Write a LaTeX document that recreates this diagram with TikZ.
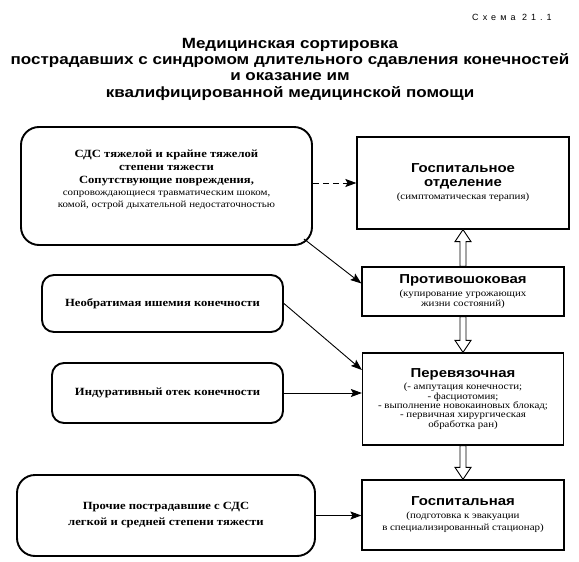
\documentclass[tikz,border=0pt]{standalone}
\usepackage{fontspec}
\setmainfont{Liberation Serif}[FakeStretch=1.15]
\newfontfamily\headfont{Liberation Sans}[FakeStretch=1.15]
\newfontfamily\schemefont{Liberation Sans}[LetterSpace=45]
\usetikzlibrary{positioning,calc,arrows.meta}

\newcommand{\titletext}{\headfont\bfseries\fontsize{14.8}{16.3}\selectfont}
\newcommand{\rhead}{\headfont\bfseries\fontsize{13}{13}\selectfont}
\newcommand{\leftbold}{\bfseries\fontsize{11}{13}\selectfont}
\newcommand{\smalltext}{\mdseries\fontsize{9.5}{10.5}\selectfont}

\newcommand{\hollowarrow}[2]{%
  \draw[hollow] (#2)
    -- ($(#2)!12pt!(#1)!8pt!90:(#1)$)
    -- ($(#2)!12pt!(#1)!3pt!90:(#1)$)
    -- ($(#1)!3pt!-90:(#2)$)
    -- ($(#1)!3pt!90:(#2)$)
    -- ($(#2)!12pt!(#1)!3pt!-90:(#1)$)
    -- ($(#2)!12pt!(#1)!8pt!-90:(#1)$)
    -- cycle;}

\begin{document}
\begin{tikzpicture}[x=1pt,y=-1pt]
        \tikzstyle{lbox}=[draw,line width=1.9pt,rounded corners=18pt,align=center,font=\leftbold]
        \tikzstyle{rbox}=[draw,line width=1.2pt,align=center,font=\smalltext]
        \tikzstyle{link}=[line width=0.9pt,-{Stealth[length=11pt,width=8pt,inset=2pt]}]
        \tikzstyle{hollow}=[line width=0.9pt,fill=white]
          \useasboundingbox (0,0) rectangle (579,562);
          \node (scheme) at (512,17) [font=\schemefont\fontsize{9}{10}\selectfont] {Схема 21.1};
          \node (title) at (290,69) [align=center,font=\titletext] {Медицинская сортировка\\
            пострадавших с синдромом длительного сдавления конечностей\\
            и оказание им\\
            квалифицированной медицинской помощи};
          \node (heavy) at (166.5,186) [lbox,minimum width=291,minimum height=118] {};
          \node (heavytext) at (166.5,180) [align=center,font=\leftbold] {СДС тяжелой и крайне тяжелой\\
            степени тяжести\\
            Сопутствующие повреждения,\\[-1pt]
            \smalltext сопровождающиеся травматическим шоком,\\[-1pt]
            \smalltext комой, острой дыхательной недостаточностью};
          \node (ischemia) at (162.5,303.5) [lbox,rounded corners=12pt,minimum width=241,minimum height=57] {Необратимая ишемия конечности};
          \node (indur) at (167.5,393) [lbox,rounded corners=12pt,minimum width=231,minimum height=60] {Индуративный отек конечности};
          \node (other) at (166,515.5) [lbox,minimum width=298,minimum height=81] {Прочие пострадавшие с СДС\\[3pt]
            легкой и средней степени тяжести};
          \node (hosp) at (463,183) [rbox,minimum width=212,minimum height=92] {\rhead Госпитальное\\[3pt]
            \rhead отделение\\[3pt]
            (симптоматическая терапия)};
          \node (anti) at (463,291.5) [rbox,minimum width=202,minimum height=49] {\rhead Противошоковая\\[2.5pt]
            (купирование угрожающих\\
            жизни состояний)};
          \node (dress) at (463,399) [rbox,minimum width=201,minimum height=92] {\rhead Перевязочная\\[1.5pt]
            (- ампутация конечности;\\[-1.2pt]
            - фасциотомия;\\[-1.2pt]
            - выполнение новокаиновых блокад;\\[-1.2pt]
            - первичная хирургическая\\[-1.2pt]
            обработка ран)};
          \node (hospit) at (463,515) [rbox,minimum width=202,minimum height=70] {\rhead Госпитальная\\[2.5pt]
            (подготовка к эвакуации\\[1.5pt]
            в специализированный стационар)};
          \draw [link,dashed,dash pattern=on 6pt off 4pt] (heavy.east |- hosp.west) -- (hosp.west);
          \draw [link] ($(heavy.south east)+(-9,-7)$) -- ($(anti.west)+(0,-8)$);
          \draw [link] (ischemia.east) -- ($(dress.west)+(0,-29)$);
          \draw [link] (indur.east) -- (indur.east -| dress.west);
          \draw [link] (other.east) -- (other.east -| hospit.west);
          \hollowarrow{anti.north}{hosp.south}
          \hollowarrow{anti.south}{dress.north}
          \hollowarrow{dress.south}{hospit.north}
      \end{tikzpicture}
\end{document}
